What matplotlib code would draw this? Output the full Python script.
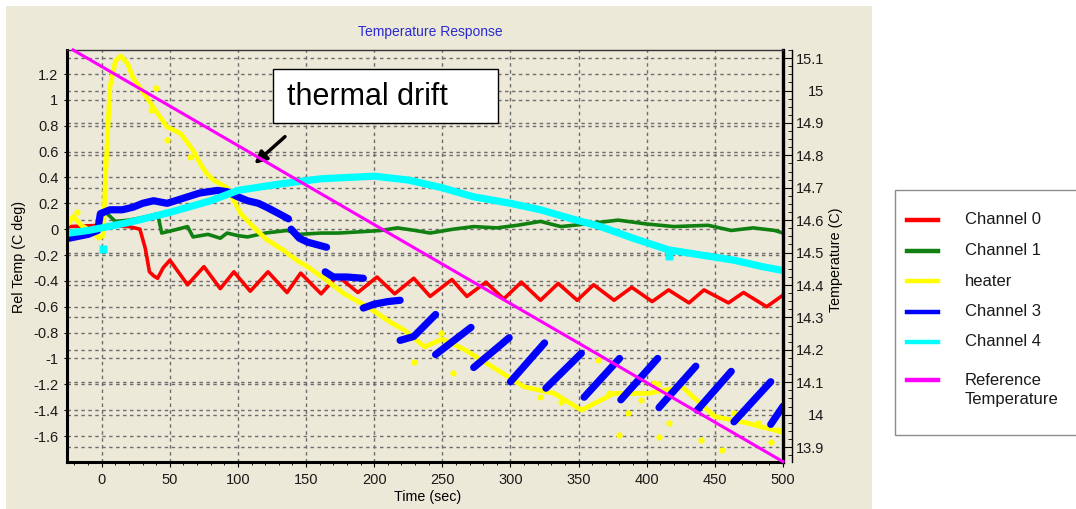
import numpy as np
import matplotlib.pyplot as plt
from matplotlib.patches import Rectangle
from matplotlib.lines import Line2D
from matplotlib.ticker import MultipleLocator
from matplotlib.transforms import blended_transform_factory

plt.rcParams['font.family'] = ['Liberation Sans', 'DejaVu Sans']

nan = np.nan

# Channel 0 (red)
ch0_time = [-24, 0, 20, 28, 32, 35, 38, 41, 45, 50, 63, 75, 87, 97, 109, 122, 136, 146, 161, 173,
            188, 202, 215, 229, 241, 257, 268, 282, 295, 308, 322, 335, 349, 361, 376, 389, 404, 416,
            431, 442, 460, 471, 488, 500]
ch0_temp = [0.02, 0.03, 0.02, 0.0, -0.15, -0.33, -0.36, -0.38, -0.30, -0.24, -0.43, -0.29, -0.46,
            -0.33, -0.48, -0.33, -0.49, -0.34, -0.50, -0.36, -0.49, -0.37, -0.50, -0.38, -0.52,
            -0.39, -0.52, -0.41, -0.54, -0.41, -0.55, -0.42, -0.55, -0.43, -0.55, -0.45, -0.56,
            -0.47, -0.57, -0.47, -0.57, -0.49, -0.60, -0.51]

# Channel 1 (green)
ch1_time = [-24, -5, 0, 2, 10, 20, 30, 38, 41, 44, 52, 63, 67, 78, 87, 92, 100, 107, 120, 136,
            145, 161, 174, 190, 205, 217, 230, 241, 258, 273, 290, 305, 322, 337, 355, 379, 400,
            420, 445, 462, 478, 494, 500]
ch1_temp = [-0.02, 0.0, 0.02, 0.14, 0.06, 0.07, 0.09, 0.11, 0.12, -0.03, -0.01, 0.02, -0.06,
            -0.04, -0.07, -0.03, -0.05, -0.06, -0.03, -0.01, -0.04, -0.03, -0.03, -0.02, -0.01,
            0.01, -0.01, -0.03, 0.0, 0.02, 0.01, 0.03, 0.06, 0.02, 0.04, 0.07, 0.04, 0.02, 0.03,
            -0.01, 0.01, -0.01, -0.03]

# heater (yellow) trace and loose samples
heater_time = [-24, -21, -15, -6, -2, 1, 3, 6, 10, 14, 19, 23, 31, 38, 48, 58, 67, 72, 77, 82,
               92, 102, 111, 121, 133, 143, 151, 163, 178, 195, 212, 222, 237, 250, 266, 286,
               310, 332, 352, 376, 401, 426, 450, 474, 499]
heater_temp = [0.05, 0.1, 0.03, -0.03, -0.07, -0.05, 0.45, 1.1, 1.3, 1.34, 1.28, 1.17, 1.05,
               0.94, 0.79, 0.74, 0.61, 0.51, 0.43, 0.38, 0.32, 0.12, 0.02, -0.08, -0.16, -0.24,
               -0.29, -0.38, -0.5, -0.6, -0.72, -0.78, -0.91, -0.85, -0.93, -1.06, -1.22, -1.27,
               -1.40, -1.27, -1.27, -1.22, -1.45, -1.5, -1.57]
heater_spot_time = [-18, 36, 40, 48, 65, 229, 249, 258, 303, 322, 337, 364, 372, 380, 386, 396,
                    405, 408, 409, 416, 440, 455, 464, 482, 491, 496]
heater_spot_temp = [0.13, 0.92, 1.09, 0.69, 0.56, -1.03, -0.80, -1.11, -1.17, -1.30, -1.34,
                    -1.01, -1.27, -1.59, -1.42, -1.32, -1.19, -1.20, -1.61, -1.50, -1.63, -1.71,
                    -1.42, -1.50, -1.65, -1.55]

# Channel 3 (blue), nan splits the segments
ch3_time = [-24, -10, -3, -1, 6, 15, 23, 30, 38, 48, 60, 72, 85, 92, 100, 107, 115, 121, 130, 137,
            nan, 139, 145, 151, 158, 165, nan, 164, 170, 180, 192, nan, 192, 200, 210, 219,
            nan, 219, 229, 245, nan, 245, 271, nan, 273, 299, nan, 300, 325, nan, 326, 352,
            nan, 354, 380, nan, 381, 408, nan, 409, 436, nan, 437, 462, nan, 464, 491, nan, 491, 500]
ch3_temp = [-0.07, -0.04, -0.01, 0.12, 0.15, 0.15, 0.17, 0.20, 0.22, 0.20, 0.24, 0.28, 0.30, 0.29,
            0.25, 0.22, 0.20, 0.17, 0.12, 0.08, nan, 0.0, -0.07, -0.10, -0.12, -0.14,
            nan, -0.33, -0.37, -0.37, -0.38, nan, -0.61, -0.58, -0.56, -0.55,
            nan, -0.86, -0.83, -0.66, nan, -0.97, -0.76, nan, -1.07, -0.84, nan, -1.18, -0.88,
            nan, -1.23, -0.96, nan, -1.30, -1.00, nan, -1.32, -1.00, nan, -1.38, -1.06,
            nan, -1.40, -1.10, nan, -1.49, -1.18, nan, -1.51, -1.37]

# Channel 4 (cyan)
ch4_time = [-24, -10, 0, 19, 50, 80, 100, 131, 161, 200, 225, 250, 273, 300, 322, 345, 366, 390,
            416, 440, 464, 485, 500]
ch4_temp = [-0.03, -0.01, 0.01, 0.05, 0.13, 0.22, 0.30, 0.35, 0.39, 0.41, 0.38, 0.32, 0.25, 0.20,
            0.15, 0.08, 0.02, -0.07, -0.16, -0.20, -0.24, -0.29, -0.32]
ch4_spot_time = [1, 416]
ch4_spot_temp = [-0.15, -0.21]

# reference temperature, right axis (C)
ref_time = [-21, 500]
ref_temp = [15.125, 13.855]

left_ticks = [1.2, 1, 0.8, 0.6, 0.4, 0.2, 0, -0.2, -0.4, -0.6, -0.8, -1, -1.2, -1.4, -1.6]
left_labels = ['1.2', '1', '0.8', '0.6', '0.4', '0.2', '0', '-0.2', '-0.4', '-0.6', '-0.8',
               '-1', '-1.2', '-1.4', '-1.6']
right_ticks = [13.9, 14.0, 14.1, 14.2, 14.3, 14.4, 14.5, 14.6, 14.7, 14.8, 14.9, 15.0, 15.1]
right_labels = ['13.9', '14', '14.1', '14.2', '14.3', '14.4', '14.5', '14.6', '14.7', '14.8',
                '14.9', '15', '15.1']
time_ticks = [0, 50, 100, 150, 200, 250, 300, 350, 400, 450, 500]

series_names = ['Channel 0', 'Channel 1', 'heater', 'Channel 3', 'Channel 4',
                'Reference\nTemperature']
series_colors = ['#ff0000', '#108010', '#ffff00', '#0000ff', '#00ffff', '#ff00ff']

W, H = 1076, 509
beige = '#ECE9D8'
grid_kw = dict(color='#6e6e6e', linestyle=(0, (2.5, 2.5)), linewidth=1.0)


def fx(px):
    return px / W


def fy(py):
    return 1 - py / H


fig = plt.figure(figsize=(W / 100, H / 100), dpi=100)
fig.patch.set_facecolor('white')
fig.patches.append(Rectangle((fx(6), 0), fx(872 - 6), 1 - 6 / H, transform=fig.transFigure,
                             facecolor=beige, edgecolor='none', zorder=-10))

ax = fig.add_axes([fx(67), fy(462), fx(783 - 67), (462 - 50) / H])
ax.set_facecolor(beige)
ax2 = ax.twinx()

ax.plot(ch0_time, ch0_temp, color=series_colors[0], lw=2.6)
ax.plot(ch1_time, ch1_temp, color=series_colors[1], lw=2.6)
ax.plot(heater_time, heater_temp, color=series_colors[2], lw=3.4)
ax.plot(heater_spot_time, heater_spot_temp, 'o', color=series_colors[2], ms=4.5, mec='none')
ax.plot(ch3_time, ch3_temp, color=series_colors[3], lw=5.2, solid_capstyle='round')
ax.plot(ch4_time, ch4_temp, color=series_colors[4], lw=5.2)
ax.plot(ch4_spot_time, ch4_spot_temp, 's', color=series_colors[4], ms=6, mec='none')
ax2.plot(ref_time, ref_temp, color=series_colors[5], lw=2.2, clip_on=False)

ax.set_xlim(-25.5, 500)
ax.set_ylim(-1.801, 1.386)
ax2.set_ylim(13.854, 15.125)

for side in ['left', 'bottom']:
    ax.spines[side].set_linewidth(2.2)
ax.spines['top'].set_linewidth(1.0)
ax.spines['top'].set_color('#333333')
ax.spines['right'].set_linewidth(2.4)
for side in ['left', 'bottom', 'top']:
    ax2.spines[side].set_visible(False)
ax2.spines['right'].set_position(('outward', 6.5))
ax2.spines['right'].set_linewidth(1.0)

ax.set_xticks(time_ticks)
ax.xaxis.set_minor_locator(MultipleLocator(10))
ax.set_yticks(left_ticks)
ax.set_yticklabels(left_labels)
ax.tick_params(axis='both', which='major', labelsize=10.5, labelcolor='#1a1a1a')
ax.tick_params(axis='x', which='major', direction='out', length=3.6, pad=4)
ax.tick_params(axis='x', which='minor', direction='out', length=2.2)
ax.tick_params(axis='y', which='major', direction='out', length=2.2, pad=4)

ax2.set_yticks(right_ticks)
ax2.yaxis.set_minor_locator(MultipleLocator(0.025))
ax2.tick_params(axis='y', which='major', direction='in', length=6.5, pad=23,
                labelsize=10.5, labelcolor='#1a1a1a')
ax2.tick_params(axis='y', which='minor', direction='in', length=3)
ax2.set_yticklabels(right_labels)

# dashed grid for both temperature scales, kept under the traces
ax.grid(True, which='major', **grid_kw)
ax.set_axisbelow(True)
right_rows = blended_transform_factory(ax.transAxes, ax2.transData)
for t in right_ticks:
    ax.plot([0, 1], [t, t], transform=right_rows, zorder=0.9, **grid_kw)

fig.text(fx(430), fy(32), 'Temperature Response', color='#2a2ad0', fontsize=10,
         ha='center', va='center')
fig.text(fx(428), fy(497), 'Time (sec)', fontsize=10.3, ha='center', va='center')
fig.text(fx(19), fy(257), 'Rel Temp (C deg)', fontsize=10.3, rotation=90,
         ha='center', va='center')
fig.text(fx(836), fy(260), 'Temperature (C)', fontsize=10.3, rotation=90,
         ha='center', va='center')

# callout box and arrow onto the reference line
fig.patches.append(Rectangle((fx(273), fy(123)), fx(498 - 273), (123 - 69) / H,
                             transform=fig.transFigure, facecolor='white',
                             edgecolor='black', lw=1.0, zorder=3))
fig.text(fx(287), fy(97), 'thermal drift', fontsize=22, ha='left', va='center', zorder=4)
ax.annotate('', xy=(110.5, 0.49), xytext=(136, 0.73),
            arrowprops=dict(arrowstyle='-|>', color='black', lw=2.5, mutation_scale=18))

# legend panel
fig.patches.append(Rectangle((fx(895), fy(435)), fx(1090 - 895), (435 - 190) / H,
                             transform=fig.transFigure, facecolor='white',
                             edgecolor='#8c8c8c', lw=1.0, zorder=3))
row_y = [220, 250.5, 281, 311.5, 342, 380]
for name, color, y in zip(series_names, series_colors, row_y):
    fig.add_artist(Line2D([fx(907), fx(938)], [fy(y), fy(y)], color=color, lw=3.2,
                          transform=fig.transFigure, zorder=4))
    if '\n' in name:
        fig.text(fx(965), fy(y - 7), name, fontsize=12, ha='left', va='top',
                 linespacing=1.3, color='#1a1a1a', zorder=4)
    else:
        fig.text(fx(965), fy(y), name, fontsize=12, ha='left', va='center',
                 color='#1a1a1a', zorder=4)

# right-hand temperature labels sit flush right against the axis title
for lab in ax2.yaxis.get_majorticklabels():
    lab.set_horizontalalignment('right')

plt.savefig('out.png', dpi=100)
